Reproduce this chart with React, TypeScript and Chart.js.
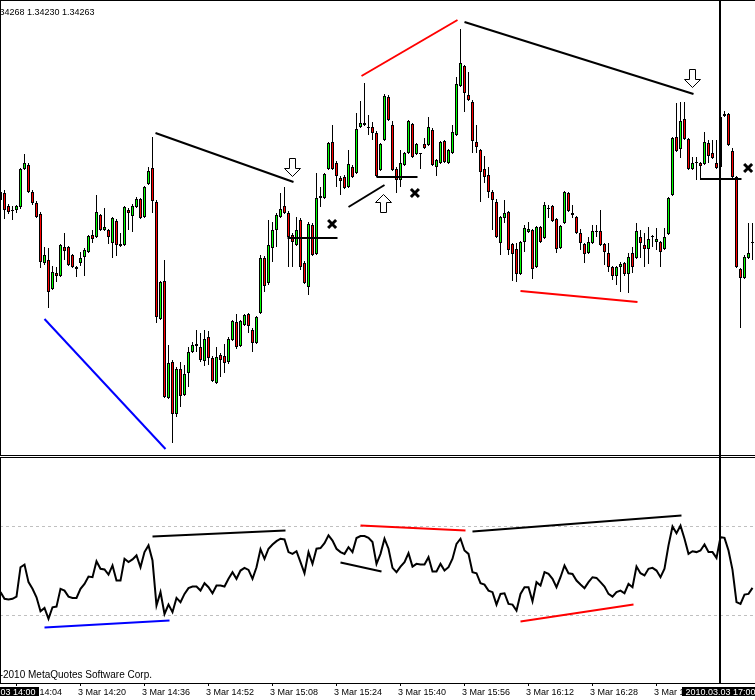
import React, { useEffect, useRef } from "react";
import { Chart, registerables } from "chart.js";

Chart.register(...registerables);

const BULL = "#00ff00";
const BEAR = "#ff0000";

// 1-minute EURUSD bars, 3 Mar 2010 14:00 .. 17:08 (index = minutes after 14:00)
const open = [
  1.34308, 1.34307, 1.34294, 1.3429, 1.3429, 1.34293, 1.34331, 1.34335, 1.34308, 1.34297,
  1.34286, 1.34237, 1.3424, 1.34211, 1.34227, 1.34224, 1.34253, 1.34253, 1.34245, 1.34233,
  1.34237, 1.34243, 1.34248, 1.34265, 1.34263, 1.34285, 1.3427, 1.3427, 1.34257, 1.34279,
  1.34256, 1.34255, 1.3429, 1.34284, 1.34293, 1.34301, 1.34283, 1.34316, 1.34332, 1.34298,
  1.34181, 1.34219, 1.34102, 1.34138, 1.34086, 1.34131, 1.34105, 1.34127, 1.34148, 1.34156,
  1.34153, 1.34139, 1.34163, 1.34142, 1.34117, 1.34145, 1.34144, 1.34138, 1.3416, 1.34178,
  1.34154, 1.34175, 1.34186, 1.3417, 1.34157, 1.34187, 1.34242, 1.34217, 1.34252, 1.3427,
  1.34283, 1.34294, 1.34287, 1.34265, 1.34255, 1.3428, 1.34237, 1.34213, 1.34275, 1.34246,
  1.34302, 1.34302, 1.34331, 1.34358, 1.34337, 1.34322, 1.34323, 1.34313, 1.34333, 1.34327,
  1.34373, 1.34375, 1.34373, 1.34373, 1.34367, 1.3433, 1.3436, 1.34403, 1.34375, 1.34331,
  1.3432, 1.34335, 1.34347, 1.34376, 1.34346, 1.34347, 1.34356, 1.34355, 1.3437, 1.34333,
  1.34337, 1.34359, 1.34337, 1.34347, 1.34365, 1.34414, 1.34434, 1.34405, 1.34398, 1.34358,
  1.3435, 1.34331, 1.34325, 1.34308, 1.34298, 1.34257, 1.34282, 1.34288, 1.34256, 1.34251,
  1.34226, 1.34258, 1.34268, 1.3427, 1.34233, 1.34273, 1.34262, 1.34291, 1.34294, 1.34281,
  1.34252, 1.34277, 1.34307, 1.34287, 1.34283, 1.34267, 1.34256, 1.34247, 1.34257, 1.34269,
  1.34269, 1.34256, 1.34247, 1.34233, 1.34224, 1.34233, 1.34237, 1.34226, 1.34247, 1.34242,
  1.34263, 1.34255, 1.34251, 1.34263, 1.34258, 1.34258, 1.34251, 1.34266, 1.34305, 1.34363,
  1.34351, 1.34381, 1.34361, 1.34331, 1.34338, 1.34337, 1.34336, 1.34357, 1.34347, 1.34337,
  1.34333, 1.34384, 1.34386, 1.34349, 1.34323, 1.34231, 1.34222, 1.34242, 1.34257,
];
const high = [
  1.34312, 1.3431, 1.34296, 1.34294, 1.34295, 1.34332, 1.34346, 1.34337, 1.3431, 1.34299,
  1.34288, 1.34253, 1.34252, 1.34234, 1.34233, 1.34256, 1.34267, 1.34254, 1.34246, 1.34234,
  1.34248, 1.34252, 1.34265, 1.3427, 1.34305, 1.34286, 1.34292, 1.34271, 1.34283, 1.34281,
  1.34267, 1.34294, 1.34292, 1.34296, 1.34303, 1.34302, 1.34314, 1.34333, 1.34363, 1.343,
  1.34219, 1.3424, 1.34155, 1.3414, 1.34133, 1.34138, 1.34135, 1.34153, 1.34158, 1.3417,
  1.34167, 1.3417, 1.34169, 1.34144, 1.34153, 1.34147, 1.34156, 1.34163, 1.3418, 1.34186,
  1.3418, 1.34186, 1.34187, 1.34172, 1.34184, 1.34245, 1.34244, 1.3428, 1.34278, 1.34287,
  1.34307, 1.34313, 1.34289, 1.34267, 1.34283, 1.34282, 1.34239, 1.34278, 1.34277, 1.34327,
  1.34313, 1.34327, 1.34358, 1.34375, 1.34339, 1.34324, 1.34325, 1.3435, 1.34335, 1.34387,
  1.34399, 1.34417, 1.34385, 1.34378, 1.34369, 1.34357, 1.34406, 1.34405, 1.34379, 1.34333,
  1.3435, 1.34348, 1.3438, 1.34377, 1.34357, 1.34347, 1.34362, 1.34383, 1.34372, 1.34341,
  1.34359, 1.3436, 1.34351, 1.34375, 1.34423, 1.34471, 1.34435, 1.34428, 1.344, 1.34375,
  1.34351, 1.34344, 1.34333, 1.3431, 1.34301, 1.34284, 1.343, 1.34289, 1.34257, 1.34257,
  1.34259, 1.34275, 1.34278, 1.34271, 1.34274, 1.34274, 1.34298, 1.34295, 1.34295, 1.34282,
  1.34275, 1.34309, 1.34308, 1.34295, 1.34284, 1.34271, 1.34257, 1.34263, 1.34275, 1.34275,
  1.3429, 1.34257, 1.34257, 1.34234, 1.34234, 1.34238, 1.34238, 1.34247, 1.34253, 1.34277,
  1.3427, 1.34267, 1.34273, 1.34265, 1.34272, 1.34259, 1.34272, 1.34303, 1.34363, 1.34397,
  1.34398, 1.34398, 1.34362, 1.34343, 1.34343, 1.34338, 1.34368, 1.3436, 1.3436, 1.3436,
  1.34385, 1.34389, 1.34387, 1.34352, 1.34324, 1.34232, 1.34245, 1.34277, 1.34277,
];
const low = [
  1.34297, 1.34281, 1.34286, 1.3428, 1.34287, 1.34291, 1.3433, 1.34307, 1.34295, 1.34282,
  1.34232, 1.34235, 1.34192, 1.3421, 1.34218, 1.34223, 1.3424, 1.34234, 1.34232, 1.34223,
  1.34234, 1.34224, 1.34247, 1.34257, 1.34262, 1.34269, 1.34269, 1.34256, 1.34242, 1.34244,
  1.34253, 1.34254, 1.3427, 1.34268, 1.34292, 1.34281, 1.34282, 1.34315, 1.34287, 1.34177,
  1.3418, 1.34102, 1.34101, 1.34057, 1.34083, 1.34093, 1.34104, 1.34113, 1.34147, 1.34148,
  1.34138, 1.34134, 1.34135, 1.34118, 1.34116, 1.34123, 1.34127, 1.34136, 1.34159, 1.34151,
  1.34153, 1.34174, 1.34167, 1.34148, 1.34156, 1.34186, 1.34208, 1.34215, 1.34238, 1.34253,
  1.34282, 1.34286, 1.34233, 1.34233, 1.34254, 1.3423, 1.34216, 1.34205, 1.34244, 1.34245,
  1.34293, 1.34301, 1.3433, 1.3433, 1.34313, 1.34305, 1.34311, 1.34312, 1.34322, 1.34326,
  1.34372, 1.34374, 1.34365, 1.3436, 1.34323, 1.34329, 1.34359, 1.34379, 1.34329, 1.34307,
  1.34313, 1.34334, 1.34346, 1.34342, 1.34345, 1.34331, 1.34351, 1.34354, 1.34334, 1.34324,
  1.34336, 1.34337, 1.34336, 1.34346, 1.34364, 1.34413, 1.34388, 1.34399, 1.34347, 1.34347,
  1.34298, 1.34317, 1.34302, 1.3427, 1.34262, 1.34245, 1.34277, 1.34245, 1.34219, 1.34218,
  1.34225, 1.34248, 1.34267, 1.34221, 1.34232, 1.34257, 1.34261, 1.34282, 1.34278, 1.34247,
  1.34251, 1.34276, 1.34288, 1.34282, 1.34266, 1.3425, 1.34237, 1.34246, 1.34256, 1.34263,
  1.34254, 1.34235, 1.34228, 1.3422, 1.34215, 1.34208, 1.34224, 1.34207, 1.34227, 1.34241,
  1.34242, 1.34233, 1.34236, 1.34253, 1.3425, 1.34233, 1.3425, 1.34265, 1.34304, 1.34348,
  1.34342, 1.3436, 1.3433, 1.3433, 1.3432, 1.3432, 1.34335, 1.34337, 1.34341, 1.34331,
  1.34332, 1.34383, 1.34354, 1.34322, 1.34232, 1.34172, 1.34221, 1.34241, 1.3424,
];
const close = [
  1.343, 1.3429, 1.34288, 1.34289, 1.34294, 1.34331, 1.34337, 1.34308, 1.34297, 1.34283,
  1.34238, 1.34245, 1.34208, 1.34228, 1.34224, 1.34255, 1.34249, 1.34235, 1.34233, 1.34231,
  1.34242, 1.3425, 1.34264, 1.34261, 1.34288, 1.3427, 1.34273, 1.34263, 1.34282, 1.34255,
  1.34254, 1.34293, 1.34287, 1.34294, 1.34301, 1.34282, 1.34313, 1.34329, 1.34299, 1.34183,
  1.34218, 1.34103, 1.34137, 1.34086, 1.34131, 1.34104, 1.34126, 1.34148, 1.34155, 1.34154,
  1.3414, 1.34161, 1.34142, 1.34119, 1.34143, 1.3414, 1.34137, 1.34161, 1.34179, 1.34153,
  1.34179, 1.34185, 1.34174, 1.34157, 1.34183, 1.34242, 1.34214, 1.34255, 1.3427, 1.34285,
  1.34291, 1.34287, 1.34263, 1.34258, 1.3427, 1.34233, 1.34217, 1.34276, 1.34245, 1.34302,
  1.34304, 1.34326, 1.34357, 1.34331, 1.34324, 1.34319, 1.34312, 1.34336, 1.34323, 1.34371,
  1.34377, 1.34377, 1.34372, 1.34367, 1.34324, 1.34356, 1.34404, 1.3438, 1.3433, 1.3432,
  1.34337, 1.34347, 1.34379, 1.34343, 1.34356, 1.34346, 1.34352, 1.34373, 1.34335, 1.3434,
  1.34358, 1.34338, 1.3435, 1.34368, 1.34416, 1.34437, 1.34407, 1.344, 1.34359, 1.34353,
  1.34328, 1.34323, 1.34308, 1.343, 1.34263, 1.34283, 1.34287, 1.3425, 1.34246, 1.34226,
  1.34258, 1.34272, 1.34271, 1.34231, 1.34273, 1.34258, 1.34295, 1.34292, 1.34279, 1.34251,
  1.34274, 1.34308, 1.34289, 1.34285, 1.34267, 1.34257, 1.34246, 1.34258, 1.34269, 1.34268,
  1.34255, 1.34248, 1.34233, 1.34224, 1.34233, 1.34236, 1.34226, 1.34243, 1.34233, 1.34269,
  1.34257, 1.34251, 1.34261, 1.34264, 1.34261, 1.34248, 1.34263, 1.34302, 1.34362, 1.34349,
  1.34379, 1.34361, 1.34331, 1.34337, 1.34337, 1.34334, 1.34358, 1.34344, 1.34342, 1.34332,
  1.34383, 1.34386, 1.34355, 1.34323, 1.34233, 1.34222, 1.34243, 1.34247, 1.34258,
];

// oscillator (0..100) in the lower window
const oscillator = [
  40.5, 37.5, 37.2, 37.5, 38.5, 51.7, 52.9, 45.0, 42.0, 38.2,
  31.9, 33.4, 28.5, 33.7, 34.0, 42.0, 41.2, 38.5, 37.9, 37.9,
  42.0, 44.2, 47.5, 47.2, 54.4, 51.0, 50.7, 48.4, 52.5, 45.7,
  45.7, 55.5, 54.0, 55.2, 57.0, 51.7, 58.5, 61.5, 54.7, 34.5,
  40.5, 30.7, 34.9, 31.5, 37.9, 36.0, 39.7, 42.3, 43.0, 43.0,
  41.2, 44.5, 42.7, 40.0, 43.5, 43.5, 43.0, 46.5, 49.5, 46.5,
  50.2, 51.4, 50.5, 46.5, 51.7, 59.8, 55.5, 60.0, 61.9, 63.4,
  64.5, 64.2, 58.5, 57.7, 58.9, 54.0, 49.0, 58.5, 53.2, 60.0,
  60.3, 62.5, 66.0, 63.7, 60.0, 58.5, 57.7, 60.7, 58.5, 64.8,
  65.7, 65.7, 64.9, 63.0, 53.2, 57.7, 64.5, 60.0, 51.4, 49.5,
  52.0, 54.0, 58.0, 52.0, 53.2, 52.9, 52.9, 56.2, 49.8, 49.8,
  53.2, 50.2, 51.7, 55.5, 62.2, 64.5, 59.2, 57.7, 49.5, 49.0,
  44.5, 43.9, 41.2, 40.5, 34.9, 39.7, 40.0, 35.2, 34.9, 32.2,
  39.7, 42.7, 42.7, 36.4, 45.0, 43.5, 49.5, 48.7, 46.5, 42.7,
  47.2, 52.5, 49.0, 48.7, 45.7, 43.9, 42.3, 45.0, 47.2, 46.9,
  45.0, 43.0, 39.7, 38.5, 40.5, 41.2, 40.0, 44.2, 42.7, 52.0,
  49.0, 48.0, 51.0, 51.4, 50.2, 47.2, 51.0, 61.5, 70.0, 67.0,
  70.4, 64.5, 57.7, 58.9, 58.5, 59.2, 61.9, 58.5, 58.5, 55.9,
  65.2, 64.9, 59.2, 50.5, 36.0, 35.2, 39.4, 39.7, 42.4,
];
const levels = [30, 70];

const tickIndex = [4, 20, 36, 52, 68, 84, 100, 116, 132, 148, 164];
const tickLabels = [
  "3 Mar 14:04", "3 Mar 14:20", "3 Mar 14:36", "3 Mar 14:52", "3 Mar 15:08", "3 Mar 15:24",
  "3 Mar 15:40", "3 Mar 15:56", "3 Mar 16:12", "3 Mar 16:28", "3 Mar 16:44",
];
const highlightIndex = [0, 180];
const highlightLabels = ["2010.03.03 14:00", "2010.03.03 17:00"];
const cursorIndex = 180;
const headerText = "1.34268 1.34230 1.34263";
const copyrightText = "© 2001-2010 MetaQuotes Software Corp.";

// drawn objects: [color, index1, value1, index2, value2]
const priceLines: [string, number, number, number, number][] = [
  ["#0000ff", 11, 1.34181, 41.25, 1.34051],
  ["#000000", 38.75, 1.34367, 73.25, 1.34318],
  ["#ff0000", 90.25, 1.34424, 114.25, 1.3448],
  ["#000000", 116, 1.34478, 173.25, 1.34406],
  ["#ff0000", 130, 1.34209, 159.25, 1.34198],
  ["#000000", 71.75, 1.34262, 84.25, 1.34262],
  ["#000000", 87, 1.34293, 96, 1.34315],
  ["#000000", 94, 1.34323, 104.25, 1.34323],
  ["#000000", 175, 1.34321, 185.25, 1.34321],
];
const oscLines: [string, number, number, number, number][] = [
  ["#0000ff", 11, 24.6, 42.25, 27.8],
  ["#000000", 38, 65.5, 71.25, 68.2],
  ["#000000", 85, 53.8, 95.25, 49.8],
  ["#ff0000", 90, 70.4, 116.25, 68.2],
  ["#000000", 118, 67.8, 170.25, 74.9],
  ["#ff0000", 130, 27.3, 158.25, 34.9],
];
const arrowIndex = [72.9, 172.75, 95.6];
const arrowPrice = [1.34324, 1.34413, 1.34306];
const arrowDir = ["down", "down", "up"];
const crossIndex = [82.9, 103.6, 186.9];
const crossPrice = [1.34276, 1.34307, 1.34332];

const X_MIN = -0.125;
const X_MAX = 188.625;
const FONT = "9px 'Liberation Sans', Arial, sans-serif";
const FONT_COPY = "10px 'Liberation Sans', Arial, sans-serif";

function segDatasets(list: [string, number, number, number, number][]) {
  return list.map(([color, x1, y1, x2, y2]) => ({
    type: "line" as const,
    data: [
      { x: x1, y: y1 },
      { x: x2, y: y2 },
    ],
    borderColor: color,
    borderWidth: 2,
    pointRadius: 0,
    order: 0,
  }));
}

function drawArrow(ctx: CanvasRenderingContext2D, x: number, y: number, dir: string) {
  const cx = Math.round(x) + 0.5;
  const ty = Math.round(y) + 0.5;
  const s = dir === "down" ? -1 : 1;
  const pts = [
    [0, 0], [8, 8], [3, 8], [3, 18], [-3, 18], [-3, 8], [-8, 8],
  ];
  ctx.beginPath();
  pts.forEach(([dx, dy], k) => {
    const px = cx + dx;
    const py = ty + dy * s;
    if (k === 0) ctx.moveTo(px, py);
    else ctx.lineTo(px, py);
  });
  ctx.closePath();
  ctx.fillStyle = "#fff";
  ctx.fill();
  ctx.lineWidth = 1;
  ctx.strokeStyle = "#000";
  ctx.stroke();
}

function drawCross(ctx: CanvasRenderingContext2D, x: number, y: number) {
  ctx.beginPath();
  ctx.moveTo(x - 4, y - 4);
  ctx.lineTo(x + 4, y + 4);
  ctx.moveTo(x + 4, y - 4);
  ctx.lineTo(x - 4, y + 4);
  ctx.lineWidth = 3;
  ctx.strokeStyle = "#000";
  ctx.stroke();
}

export default function App() {
  const topRef = useRef<HTMLCanvasElement>(null);
  const botRef = useRef<HTMLCanvasElement>(null);

  useEffect(() => {
    const idx = open.map((_, i) => i);

    const topDeco = {
      id: "topDeco",
      afterDatasetsDraw(chart: any) {
        const ctx = chart.ctx as CanvasRenderingContext2D;
        const xs = chart.scales.x;
        const ys = chart.scales.y;
        ctx.save();
        arrowIndex.forEach((ai, k) =>
          drawArrow(ctx, xs.getPixelForValue(ai), ys.getPixelForValue(arrowPrice[k]), arrowDir[k])
        );
        crossIndex.forEach((ci, k) =>
          drawCross(ctx, xs.getPixelForValue(ci), ys.getPixelForValue(crossPrice[k]))
        );
        ctx.fillStyle = "#000";
        const vx = Math.floor(xs.getPixelForValue(cursorIndex));
        ctx.fillRect(vx - 1, 0, 2, 457);
        ctx.fillRect(0, 0, 755, 1);
        ctx.fillRect(0, 0, 1, 456);
        ctx.fillRect(0, 455, 755, 1);
        ctx.font = FONT;
        ctx.textAlign = "left";
        ctx.textBaseline = "alphabetic";
        const off = ctx.measureText("1.").width;
        ctx.fillText(headerText, -off - 0.5, 15);
        ctx.restore();
      },
    };

    const botDeco = {
      id: "botDeco",
      afterDatasetsDraw(chart: any) {
        const ctx = chart.ctx as CanvasRenderingContext2D;
        const xs = chart.scales.x;
        ctx.save();
        ctx.fillStyle = "#000";
        ctx.fillRect(0, 0, 755, 1);
        ctx.fillRect(0, 226, 755, 1);
        ctx.fillRect(0, 0, 1, 227);
        const vx = Math.floor(xs.getPixelForValue(cursorIndex));
        ctx.fillRect(vx - 1, 0, 2, 227);
        ctx.textBaseline = "alphabetic";
        ctx.textAlign = "left";
        ctx.font = FONT_COPY;
        const coff = ctx.measureText("© 2001-").width;
        ctx.fillText(copyrightText, 3 - coff, 221);
        ctx.font = FONT;
        tickIndex.forEach((ti, k) => {
          const x = Math.floor(xs.getPixelForValue(ti));
          ctx.fillRect(x, 227, 1, 2);
          ctx.fillText(tickLabels[k], x - 2, 238);
        });
        highlightIndex.forEach((hi, k) => {
          const x = xs.getPixelForValue(hi);
          const w = Math.ceil(ctx.measureText(highlightLabels[k]).width) + 6;
          ctx.fillStyle = "#000";
          ctx.fillRect(Math.round(x - w / 2), 230, w, 9);
          ctx.fillStyle = "#fff";
          ctx.textAlign = "center";
          ctx.fillText(highlightLabels[k], x, 238);
          ctx.textAlign = "left";
        });
        ctx.restore();
      },
    };

    const c1 = new Chart(topRef.current as HTMLCanvasElement, {
      type: "bar",
      data: {
        datasets: [
          {
            type: "bar",
            data: idx.map((i) => ({ x: i, y: [low[i], high[i]] })) as any,
            backgroundColor: "#000",
            borderWidth: 0,
            barThickness: 1,
            grouped: false,
            inflateAmount: 0,
            order: 3,
          } as any,
          {
            type: "bar",
            data: idx.map((i) => ({ x: i, y: [open[i], close[i]] })) as any,
            backgroundColor: idx.map((i) => (close[i] >= open[i] ? BULL : BEAR)),
            borderColor: "#000",
            borderWidth: 1,
            borderSkipped: false,
            barThickness: 3,
            grouped: false,
            inflateAmount: 0,
            order: 2,
          } as any,
          ...(segDatasets(priceLines) as any[]),
        ],
      },
      options: {
        animation: false,
        responsive: false,
        devicePixelRatio: 1,
        events: [],
        layout: { padding: { top: 0, bottom: 2, left: 0, right: 0 } },
        plugins: { legend: { display: false }, tooltip: { enabled: false } },
        scales: {
          x: { type: "linear", min: X_MIN, max: X_MAX, offset: false, display: false },
          y: { type: "linear", min: 1.34045, max: 1.345, display: false },
        },
      },
      plugins: [topDeco],
    });

    const c2 = new Chart(botRef.current as HTMLCanvasElement, {
      type: "line",
      data: {
        datasets: [
          ...levels.map((lv) => ({
            data: [
              { x: X_MIN, y: lv },
              { x: X_MAX, y: lv },
            ],
            borderColor: "#c0c0c0",
            borderWidth: 1,
            borderDash: [3, 3],
            pointRadius: 0,
            order: 3,
          })),
          {
            data: oscillator.map((v, i) => ({ x: i, y: v })),
            borderColor: "#000",
            borderWidth: 2,
            pointRadius: 0,
            tension: 0,
            order: 2,
          },
          ...(segDatasets(oscLines) as any[]),
        ] as any,
      },
      options: {
        animation: false,
        responsive: false,
        devicePixelRatio: 1,
        events: [],
        layout: { padding: { top: 1, bottom: 17, left: 0, right: 0 } },
        plugins: { legend: { display: false }, tooltip: { enabled: false } },
        scales: {
          x: { type: "linear", min: X_MIN, max: X_MAX, offset: false, display: false },
          y: { type: "linear", min: -0.337, max: 100.787, display: false },
        },
      },
      plugins: [botDeco],
    });

    return () => {
      c1.destroy();
      c2.destroy();
    };
  }, []);

  return (
    <div
      style={{
        position: "absolute",
        left: 0,
        top: 0,
        width: 755,
        height: 700,
        background: "#fff",
        overflow: "hidden",
      }}
    >
      <canvas
        ref={topRef}
        width={755}
        height={457}
        style={{ position: "absolute", left: 0, top: 0, width: 755, height: 457, display: "block" }}
      />
      <canvas
        ref={botRef}
        width={755}
        height={243}
        style={{ position: "absolute", left: 0, top: 457, width: 755, height: 243, display: "block" }}
      />
    </div>
  );
}
